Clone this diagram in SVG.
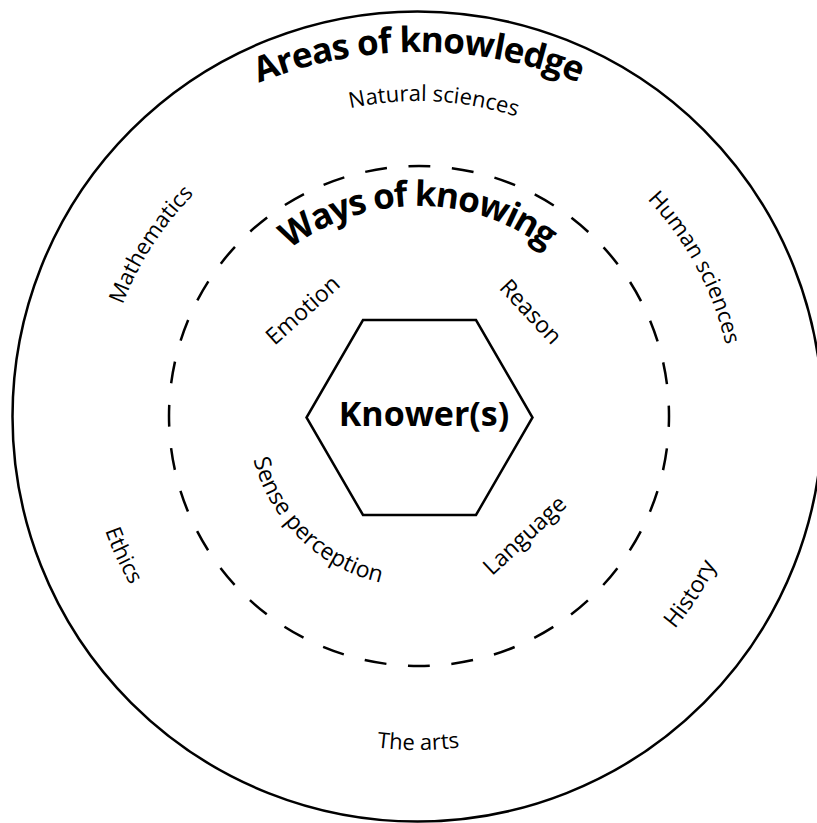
<svg xmlns="http://www.w3.org/2000/svg" xmlns:xlink="http://www.w3.org/1999/xlink" width="817" height="823" viewBox="0 0 817 823">
<style>
.lbl{font-family:"Open Sans","Noto Sans",sans-serif;font-size:22px;fill:#000}
.ttl{font-family:"Open Sans","Noto Sans",sans-serif;font-size:35px;font-weight:bold;fill:#000}
.ln{fill:none;stroke:#000;stroke-width:2.5}
</style>
<defs>
<path id="arcAreas" d="M-11,482 A430,430 0 0 1 849,482"/>
<path id="arcWays" d="M206,418 A212,212 0 0 1 630,418"/>
<path id="arcTop" d="M102,417 A316,316 0 1 1 734,417 A316,316 0 1 1 102,417"/>
<path id="arcBot" d="M85,417 A333,333 0 1 0 751,417 A333,333 0 1 0 85,417"/>
<path id="arcSense" d="M248,417 A170,170 0 0 0 503,564"/>
</defs>
<rect width="817" height="823" fill="#fff"/>
<g id="areas">
<circle class="ln" cx="417.5" cy="416.5" r="405"/>
<text class="ttl"><textPath xlink:href="#arcAreas" href="#arcAreas" startOffset="50%" text-anchor="middle" textLength="328" lengthAdjust="spacing">Areas of knowledge</textPath></text>
</g>
<g id="natural-sciences"><text class="lbl"><textPath href="#arcTop" xlink:href="#arcTop" startOffset="512" text-anchor="middle">Natural sciences</textPath></text></g>
<g id="mathematics"><text class="lbl"><textPath href="#arcTop" xlink:href="#arcTop" startOffset="181" text-anchor="middle">Mathematics</textPath></text></g>
<g id="human-sciences"><text class="lbl"><textPath href="#arcTop" xlink:href="#arcTop" startOffset="836" text-anchor="middle">Human sciences</textPath></text></g>
<g id="ethics"><text class="lbl"><textPath href="#arcBot" xlink:href="#arcBot" startOffset="146" text-anchor="middle">Ethics</textPath></text></g>
<g id="the-arts"><text class="lbl"><textPath href="#arcBot" xlink:href="#arcBot" startOffset="523" text-anchor="middle">The arts</textPath></text></g>
<g id="history"><text class="lbl" style="font-size:23px"><textPath href="#arcBot" xlink:href="#arcBot" startOffset="854" text-anchor="middle">History</textPath></text></g>
<g id="ways">
<circle class="ln" cx="419" cy="416" r="250" stroke-dasharray="22 21.63" stroke-dashoffset="11"/>
<text class="ttl"><textPath href="#arcWays" xlink:href="#arcWays" startOffset="50%" text-anchor="middle" textLength="276" lengthAdjust="spacing">Ways of knowing</textPath></text>
</g>
<g id="emotion"><text class="lbl" style="font-size:23px" transform="translate(308,316) rotate(-42)" text-anchor="middle">Emotion</text></g>
<g id="reason"><text class="lbl" style="font-size:23px" transform="translate(525,317) rotate(47)" text-anchor="middle">Reason</text></g>
<g id="language"><text class="lbl" style="font-size:23px" transform="translate(530,541) rotate(-43)" text-anchor="middle">Language</text></g>
<g id="sense-perception"><text class="lbl" style="font-size:23px"><textPath href="#arcSense" xlink:href="#arcSense" startOffset="136" text-anchor="middle">Sense perception</textPath></text></g>
<g id="knower">
<polygon class="ln" points="363,320 476,320 532.5,417.5 476,515 363,515 306.5,417.5"/>
<text class="ttl" x="424" y="426" text-anchor="middle" style="font-size:34px">Knower(s)</text>
</g>
</svg>
